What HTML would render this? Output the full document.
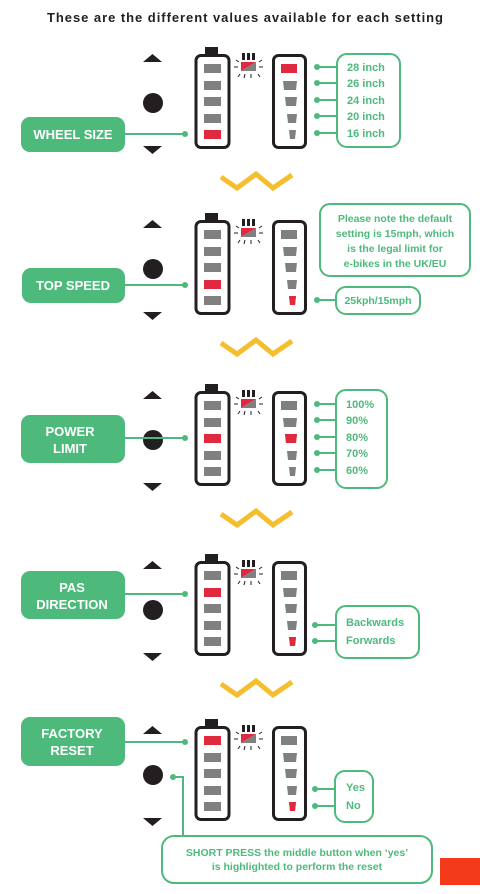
<!DOCTYPE html>
<html><head><meta charset="utf-8"><style>
html,body{margin:0;padding:0;background:#fff;width:480px;height:894px;overflow:hidden}
svg{display:block}
text{font-family:"Liberation Sans",sans-serif;font-weight:bold}
</style></head><body>
<svg width="480" height="894" viewBox="0 0 480 894" xmlns="http://www.w3.org/2000/svg">
<defs>
<g id="base">
  <polygon points="143,62 162,62 152.5,54" fill="#231f20"/>
  <circle cx="153" cy="103" r="10" fill="#231f20"/>
  <polygon points="143,146 162,146 152.5,154" fill="#231f20"/>
  <rect x="205" y="47" width="13" height="9" fill="#231f20"/>
  <rect x="196" y="55.5" width="33" height="92" rx="5" fill="#fff" stroke="#231f20" stroke-width="3"/>
  <rect x="204" y="64" width="17" height="9" fill="#808080"/>
  <rect x="204" y="81" width="17" height="9" fill="#808080"/>
  <rect x="204" y="97" width="17" height="9" fill="#808080"/>
  <rect x="204" y="114" width="17" height="9" fill="#808080"/>
  <rect x="204" y="130" width="17" height="9" fill="#808080"/>
  <rect x="273.5" y="55.5" width="32" height="92" rx="5" fill="#fff" stroke="#231f20" stroke-width="3"/>
  <polygon points="281,64 297,64 297,73 281,73" fill="#808080"/>
  <polygon points="283,81 297,81 296,90 284,90" fill="#808080"/>
  <polygon points="285,97 297,97 296,106 286,106" fill="#808080"/>
  <polygon points="287,114 297,114 296,123 288,123" fill="#808080"/>
  <polygon points="289,130 296,130 295,139 290,139" fill="#808080"/>
  <rect x="242" y="53" width="3" height="7" fill="#231f20"/>
  <rect x="247" y="53" width="3" height="7" fill="#231f20"/>
  <rect x="252" y="53" width="3" height="7" fill="#231f20"/>
  <polygon points="241,62 256,62 241,71" fill="#e0283e"/>
  <polygon points="256,62 256,71 241,71" fill="#808080"/>
  <g stroke="#231f20" stroke-width="1">
    <line x1="234" y1="67" x2="238" y2="67"/><line x1="259" y1="67" x2="263" y2="67"/>
    <line x1="236" y1="60" x2="239" y2="62"/><line x1="262" y1="60" x2="259" y2="62"/>
    <line x1="238" y1="77" x2="240" y2="74"/><line x1="260" y1="77" x2="258" y2="74"/>
    <line x1="245" y1="74" x2="244" y2="78"/><line x1="251" y1="74" x2="251" y2="78"/>
  </g>
</g>
<polyline id="zig" points="221,177 237,188 256,174 273,188 292,175" fill="none" stroke="#f5be2e" stroke-width="5"/>
</defs>
<text x="245" y="22" font-size="13" fill="#231f20" text-anchor="middle" textLength="396">These are the different values available for each setting</text>

<!-- S1 -->
<use href="#base"/>
<rect x="204" y="130" width="17" height="9" fill="#e0283e"/>
<polygon points="281,64 297,64 297,73 281,73" fill="#e0283e"/>
<rect x="21" y="117" width="104" height="35" rx="9" fill="#4dba7c"/>
<text x="73" y="139" font-size="13" fill="#fff" text-anchor="middle">WHEEL SIZE</text>
<line x1="125" y1="134" x2="185" y2="134" stroke="#4dba7c" stroke-width="2"/><circle cx="185" cy="134" r="3" fill="#4dba7c"/>
<rect x="337" y="54" width="63" height="93" rx="10" fill="#fff" stroke="#4dba7c" stroke-width="2"/>
<g stroke="#4dba7c" stroke-width="2"><line x1="317" y1="67" x2="337" y2="67"/><line x1="317" y1="83" x2="337" y2="83"/><line x1="317" y1="100" x2="337" y2="100"/><line x1="317" y1="116" x2="337" y2="116"/><line x1="317" y1="133" x2="337" y2="133"/></g>
<g fill="#4dba7c"><circle cx="317" cy="67" r="3"/><circle cx="317" cy="83" r="3"/><circle cx="317" cy="100" r="3"/><circle cx="317" cy="116" r="3"/><circle cx="317" cy="133" r="3"/></g>
<g font-size="11" fill="#4dba7c"><text x="347" y="71">28 inch</text><text x="347" y="87">26 inch</text><text x="347" y="104">24 inch</text><text x="347" y="120">20 inch</text><text x="347" y="137">16 inch</text></g>
<use href="#zig"/>

<!-- S2 -->
<g transform="translate(0,166)">
<use href="#base"/>
<rect x="204" y="114" width="17" height="9" fill="#e0283e"/>
<polygon points="289,130 296,130 295,139 290,139" fill="#e0283e"/>
<use href="#zig"/>
</g>
<rect x="22" y="268" width="103" height="35" rx="9" fill="#4dba7c"/>
<text x="73" y="290" font-size="13" fill="#fff" text-anchor="middle">TOP SPEED</text>
<line x1="125" y1="285" x2="185" y2="285" stroke="#4dba7c" stroke-width="2"/><circle cx="185" cy="285" r="3" fill="#4dba7c"/>
<rect x="320" y="204" width="150" height="72" rx="10" fill="#fff" stroke="#4dba7c" stroke-width="2"/>
<g font-size="10.5" fill="#4dba7c" text-anchor="middle"><text x="395" y="222">Please note the default</text><text x="395" y="237">setting is 15mph, which</text><text x="395" y="252">is the legal limit for</text><text x="395" y="267">e-bikes in the UK/EU</text></g>
<rect x="336" y="287" width="84" height="27" rx="10" fill="#fff" stroke="#4dba7c" stroke-width="2"/>
<line x1="317" y1="300" x2="336" y2="300" stroke="#4dba7c" stroke-width="2"/><circle cx="317" cy="300" r="3" fill="#4dba7c"/>
<text x="378" y="304" font-size="10.5" fill="#4dba7c" text-anchor="middle">25kph/15mph</text>

<!-- S3 -->
<g transform="translate(0,337)">
<use href="#base"/>
<rect x="204" y="97" width="17" height="9" fill="#e0283e"/>
<polygon points="285,97 297,97 296,106 286,106" fill="#e0283e"/>
<use href="#zig"/>
<rect x="336" y="53" width="51" height="98" rx="10" fill="#fff" stroke="#4dba7c" stroke-width="2"/>
<g stroke="#4dba7c" stroke-width="2"><line x1="317" y1="67" x2="336" y2="67"/><line x1="317" y1="83" x2="336" y2="83"/><line x1="317" y1="100" x2="336" y2="100"/><line x1="317" y1="116" x2="336" y2="116"/><line x1="317" y1="133" x2="336" y2="133"/></g>
<g fill="#4dba7c"><circle cx="317" cy="67" r="3"/><circle cx="317" cy="83" r="3"/><circle cx="317" cy="100" r="3"/><circle cx="317" cy="116" r="3"/><circle cx="317" cy="133" r="3"/></g>
<g font-size="11" fill="#4dba7c"><text x="346" y="71">100%</text><text x="346" y="87">90%</text><text x="346" y="104">80%</text><text x="346" y="120">70%</text><text x="346" y="137">60%</text></g>
</g>
<rect x="21" y="415" width="104" height="48" rx="9" fill="#4dba7c"/>
<text x="70" y="436" font-size="13" fill="#fff" text-anchor="middle">POWER</text>
<text x="70" y="453" font-size="13" fill="#fff" text-anchor="middle">LIMIT</text>
<line x1="125" y1="438" x2="185" y2="438" stroke="#4dba7c" stroke-width="2"/><circle cx="185" cy="438" r="3" fill="#4dba7c"/>

<!-- S4 -->
<g transform="translate(0,507)">
<use href="#base"/>
<rect x="204" y="81" width="17" height="9" fill="#e0283e"/>
<polygon points="289,130 296,130 295,139 290,139" fill="#e0283e"/>
<use href="#zig"/>
</g>
<rect x="21" y="571" width="104" height="48" rx="9" fill="#4dba7c"/>
<text x="72" y="592" font-size="13" fill="#fff" text-anchor="middle">PAS</text>
<text x="72" y="609" font-size="13" fill="#fff" text-anchor="middle">DIRECTION</text>
<line x1="125" y1="594" x2="185" y2="594" stroke="#4dba7c" stroke-width="2"/><circle cx="185" cy="594" r="3" fill="#4dba7c"/>
<rect x="336" y="606" width="83" height="52" rx="10" fill="#fff" stroke="#4dba7c" stroke-width="2"/>
<g stroke="#4dba7c" stroke-width="2"><line x1="315" y1="625" x2="336" y2="625"/><line x1="315" y1="641" x2="336" y2="641"/></g>
<g fill="#4dba7c"><circle cx="315" cy="625" r="3"/><circle cx="315" cy="641" r="3"/></g>
<g font-size="11" fill="#4dba7c"><text x="346" y="626">Backwards</text><text x="346" y="644">Forwards</text></g>

<!-- S5 -->
<g transform="translate(0,672)">
<use href="#base"/>
<rect x="204" y="64" width="17" height="9" fill="#e0283e"/>
<polygon points="289,130 296,130 295,139 290,139" fill="#e0283e"/>
</g>
<rect x="21" y="717" width="104" height="49" rx="9" fill="#4dba7c"/>
<text x="72" y="738" font-size="13" fill="#fff" text-anchor="middle">FACTORY</text>
<text x="72" y="755" font-size="13" fill="#fff" text-anchor="middle">RESET</text>
<line x1="125" y1="742" x2="185" y2="742" stroke="#4dba7c" stroke-width="2"/><circle cx="185" cy="742" r="3" fill="#4dba7c"/>
<rect x="335" y="771" width="38" height="51" rx="10" fill="#fff" stroke="#4dba7c" stroke-width="2"/>
<g stroke="#4dba7c" stroke-width="2"><line x1="315" y1="789" x2="335" y2="789"/><line x1="315" y1="806" x2="335" y2="806"/></g>
<g fill="#4dba7c"><circle cx="315" cy="789" r="3"/><circle cx="315" cy="806" r="3"/></g>
<g font-size="11" fill="#4dba7c"><text x="346" y="791">Yes</text><text x="346" y="809">No</text></g>
<polyline points="173,777 183,777 183,836" fill="none" stroke="#4dba7c" stroke-width="2"/><circle cx="173" cy="777" r="3" fill="#4dba7c"/>
<rect x="162" y="836" width="270" height="47" rx="12" fill="#fff" stroke="#4dba7c" stroke-width="2"/>
<g font-size="10.5" fill="#4dba7c" text-anchor="middle"><text x="297" y="856">SHORT PRESS the middle button when ‘yes’</text><text x="297" y="870">is highlighted to perform the reset</text></g>
<rect x="440" y="858" width="40" height="27" fill="#f33a1a"/>
</svg>
</body></html>
